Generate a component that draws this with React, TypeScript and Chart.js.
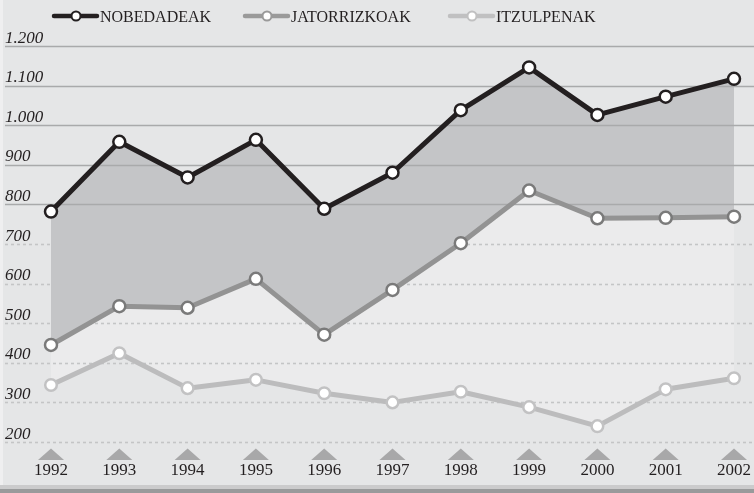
import React, { useEffect, useRef } from "react";
import { Chart, registerables } from "chart.js";

Chart.register(...registerables);

const years = ["1992", "1993", "1994", "1995", "1996", "1997", "1998", "1999", "2000", "2001", "2002"];
const nobedadeak = [782, 958, 868, 963, 789, 880, 1038, 1146, 1026, 1072, 1117];
const jatorrizkoak = [445, 543, 539, 612, 471, 584, 702, 835, 765, 766, 769];
const itzulpenak = [344, 424, 336, 357, 323, 300, 327, 288, 240, 333, 361];
const seriesNames = ["NOBEDADEAK", "JATORRIZKOAK", "ITZULPENAK"];
const yTicks = [200, 300, 400, 500, 600, 700, 800, 900, 1000, 1100, 1200];
const yTickLabels = ["200", "300", "400", "500", "600", "700", "800", "900", "1.000", "1.100", "1.200"];

const BG = "#e5e6e7";
const lineColors = ["#231f20", "#939393", "#bcbcbd"];
const pointBorders = ["#231f20", "#7a7a7a", "#c2c2c3"];
const SERIF = '"Liberation Serif", "DejaVu Serif", serif';

const decorPlugin = {
  id: "decor",
  beforeDraw(chart: any) {
    const { ctx, width, height } = chart;
    ctx.save();
    ctx.fillStyle = BG;
    ctx.fillRect(0, 0, width, height);
    ctx.fillStyle = "#efeff0";
    ctx.fillRect(0, 0, 3, height);
    ctx.fillStyle = "#cbcbcc";
    ctx.fillRect(0, 485, width, 4);
    ctx.fillStyle = "#999a9b";
    ctx.fillRect(0, 489, width, height - 489);
    ctx.restore();
  },
  beforeDatasetsDraw(chart: any) {
    const { ctx, width } = chart;
    const y = chart.scales.y;
    ctx.save();
    yTicks.forEach((v) => {
      const py = Math.round(y.getPixelForValue(v)) + 0.5;
      ctx.beginPath();
      if (v >= 800) {
        ctx.setLineDash([]);
        ctx.strokeStyle = "#a9aaab";
      } else {
        ctx.setLineDash([3, 3]);
        ctx.strokeStyle = "#c4c5c6";
      }
      ctx.lineWidth = 1.6;
      ctx.moveTo(5, py);
      ctx.lineTo(width, py);
      ctx.stroke();
    });
    ctx.restore();
  },
  afterDraw(chart: any) {
    const { ctx } = chart;
    const x = chart.scales.x;
    const y = chart.scales.y;
    ctx.save();
    // y labels above grid lines
    ctx.font = `italic 17px ${SERIF}`;
    ctx.fillStyle = "#231f20";
    ctx.textAlign = "left";
    ctx.textBaseline = "alphabetic";
    yTicks.forEach((v, i) => {
      ctx.fillText(yTickLabels[i], 5, y.getPixelForValue(v) - 3.5);
    });
    // x triangles and labels
    ctx.font = `17px ${SERIF}`;
    ctx.textAlign = "center";
    years.forEach((lab, i) => {
      const px = x.getPixelForValue(i);
      ctx.fillStyle = "#a8a8a9";
      ctx.beginPath();
      ctx.moveTo(px - 13, 460);
      ctx.lineTo(px, 448.5);
      ctx.lineTo(px + 13, 460);
      ctx.closePath();
      ctx.fill();
      ctx.fillStyle = "#231f20";
      ctx.fillText(lab, px, 475);
    });
    // legend
    const legendX = [52, 243, 448];
    const legendLine = ["#231f20", "#9a9a9a", "#c0c0c1"];
    ctx.font = `16px ${SERIF}`;
    ctx.textAlign = "left";
    seriesNames.forEach((name, i) => {
      const x0 = legendX[i];
      const cy = 16;
      ctx.strokeStyle = legendLine[i];
      ctx.lineWidth = 4.5;
      ctx.lineCap = "round";
      ctx.beginPath();
      ctx.moveTo(x0 + 2, cy);
      ctx.lineTo(x0 + 45, cy);
      ctx.stroke();
      ctx.beginPath();
      ctx.arc(x0 + 24, cy, 4.5, 0, Math.PI * 2);
      ctx.fillStyle = "#ffffff";
      ctx.fill();
      ctx.lineWidth = 2;
      ctx.stroke();
      ctx.fillStyle = "#231f20";
      ctx.fillText(name, x0 + 48, 21.5);
    });
    ctx.restore();
  },
};

export default function App() {
  const ref = useRef<HTMLCanvasElement>(null);
  useEffect(() => {
    document.body.style.margin = "0";
    const canvas = ref.current!;
    const mk = (i: number, data: number[], fill: any, bg: string, r: number, bw: number) => ({
      label: seriesNames[i],
      data,
      borderColor: lineColors[i],
      borderWidth: 5,
      backgroundColor: bg,
      fill,
      tension: 0,
      clip: false as any,
      pointRadius: r,
      pointHoverRadius: r,
      pointBorderWidth: bw,
      pointBackgroundColor: "#ffffff",
      pointBorderColor: pointBorders[i],
      borderJoinStyle: "round" as any,
    });
    const chart = new Chart(canvas, {
      type: "line",
      data: {
        labels: years,
        datasets: [
          mk(0, nobedadeak, "+1", "#c4c5c7", 6, 2.5),
          mk(1, jatorrizkoak, "+1", "#ebebec", 6, 2.5),
          mk(2, itzulpenak, false, "transparent", 5.8, 2.5),
        ],
      },
      options: {
        responsive: false,
        animation: false,
        devicePixelRatio: 1,
        layout: { padding: { left: 51, right: 20, top: 46, bottom: 51 } },
        scales: {
          x: { type: "category", display: false, offset: false },
          y: { type: "linear", display: false, min: 200, max: 1200 },
        },
        plugins: {
          legend: { display: false },
          tooltip: { enabled: false },
          filler: { drawTime: "beforeDatasetsDraw" },
        },
      } as any,
      plugins: [decorPlugin],
    });
    return () => chart.destroy();
  }, []);
  return <canvas ref={ref} width={754} height={493} style={{ display: "block" }} />;
}
